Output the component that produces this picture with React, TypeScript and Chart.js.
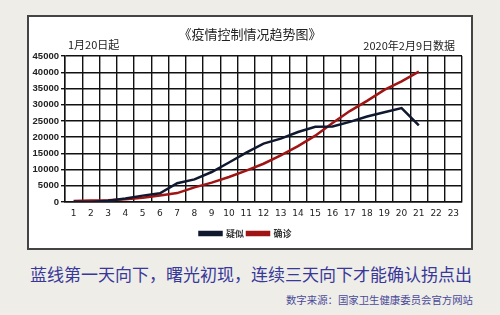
import React, { useEffect, useRef } from "react";
import { Chart, registerables } from "chart.js";

Chart.register(...registerables);

const days = ["1","2","3","4","5","6","7","8","9","10","11","12","13","14","15","16","17","18","19","20","21","22","23"];
const suspected = [54, 37, 393, 1072, 1965, 2684, 5794, 6973, 9239, 12167, 15238, 17988, 19544, 21558, 23214, 23260, 24702, 26359, 27657, 28942, 23589];
const confirmed = [291, 440, 571, 830, 1287, 1975, 2744, 4515, 5974, 7711, 9692, 11791, 14380, 17205, 20438, 24324, 28018, 31161, 34546, 37198, 40171];
const yTicks = [0, 5000, 10000, 15000, 20000, 25000, 30000, 35000, 40000, 45000];

const CJK = '"Noto Sans CJK SC", "Liberation Sans", sans-serif';

export default function App() {
  const ref = useRef<HTMLCanvasElement>(null);
  useEffect(() => {
    if (!ref.current) return;
    const chart = new Chart(ref.current, {
      type: "line",
      data: {
        labels: days,
        datasets: [
          { label: "疑似", data: suspected, borderColor: "#101830", backgroundColor: "#101830", borderWidth: 2.5, pointRadius: 0, tension: 0 },
          { label: "确诊", data: confirmed, borderColor: "#a01414", backgroundColor: "#a01414", borderWidth: 2.5, pointRadius: 0, tension: 0 },
        ],
      },
      options: {
        animation: false,
        responsive: false,
        maintainAspectRatio: false,
        layout: { padding: { top: 39, right: 9, left: 0, bottom: 0 } },
        plugins: {
          tooltip: { enabled: false },
          legend: {
            position: "bottom",
            labels: {
              boxWidth: 22,
              boxHeight: 3,
              padding: 3,
              color: "#333",
              font: { family: CJK, size: 9, weight: "bold" },
            },
          },
        },
        scales: {
          x: {
            offset: true,
            grid: { offset: true, color: "#111", lineWidth: 1.4, drawTicks: false },
            border: { color: "#111", width: 1.4 },
            ticks: { color: "#222", padding: 6, font: { family: '"DejaVu Sans", sans-serif', size: 9 }, maxRotation: 0, autoSkip: false },
            afterFit: (s: any) => { s.height = 24; },
          },
          y: {
            min: 0,
            max: 45000,
            afterBuildTicks: (s: any) => { s.ticks = yTicks.map((v) => ({ value: v })); },
            grid: { color: "#111", lineWidth: 1.4, tickLength: 4 },
            border: { color: "#111", width: 1.4 },
            ticks: {
              color: "#222",
              padding: 2,
              font: { family: '"Liberation Sans", Arial, sans-serif', size: 9.5, weight: "bold" },
              callback: (v: any) => String(v),
            },
            afterFit: (s: any) => { s.width = 36; },
          },
        },
      },
    });
    return () => chart.destroy();
  }, []);

  return (
    <div style={{ position: "fixed", left: 0, top: 0, width: 500, height: 315, background: "#eeede8", overflow: "hidden" }}>
      <div style={{ position: "absolute", left: 27, top: 15, width: 442, height: 231, border: "2px solid #444", background: "#fff" }}>
        <canvas ref={ref} width={442} height={231} style={{ position: "absolute", left: 0, top: 0, width: 442, height: 231 }} />
        <div style={{ position: "absolute", left: 0, width: 442, top: 8, textAlign: "center", fontFamily: CJK, fontSize: 13, color: "#222", lineHeight: "18px" }}>《疫情控制情况趋势图》</div>
        <div style={{ position: "absolute", left: 39, top: 20, fontFamily: CJK, fontSize: 11, color: "#222", lineHeight: "14px" }}>1月20日起</div>
        <div style={{ position: "absolute", right: 16, top: 21, fontFamily: CJK, fontSize: 11, color: "#222", lineHeight: "14px" }}>2020年2月9日数据</div>
      </div>
      <div style={{ position: "absolute", left: 28, width: 446, top: 263, textAlign: "center", fontFamily: CJK, fontSize: 17, color: "#38389a", lineHeight: "22px", whiteSpace: "nowrap" }}>蓝线第一天向下，曙光初现，连续三天向下才能确认拐点出</div>
      <div style={{ position: "absolute", right: 27, top: 293, fontFamily: CJK, fontSize: 10.4, color: "#4a4a9a", lineHeight: "14px", whiteSpace: "nowrap" }}>数字来源：国家卫生健康委员会官方网站</div>
    </div>
  );
}
